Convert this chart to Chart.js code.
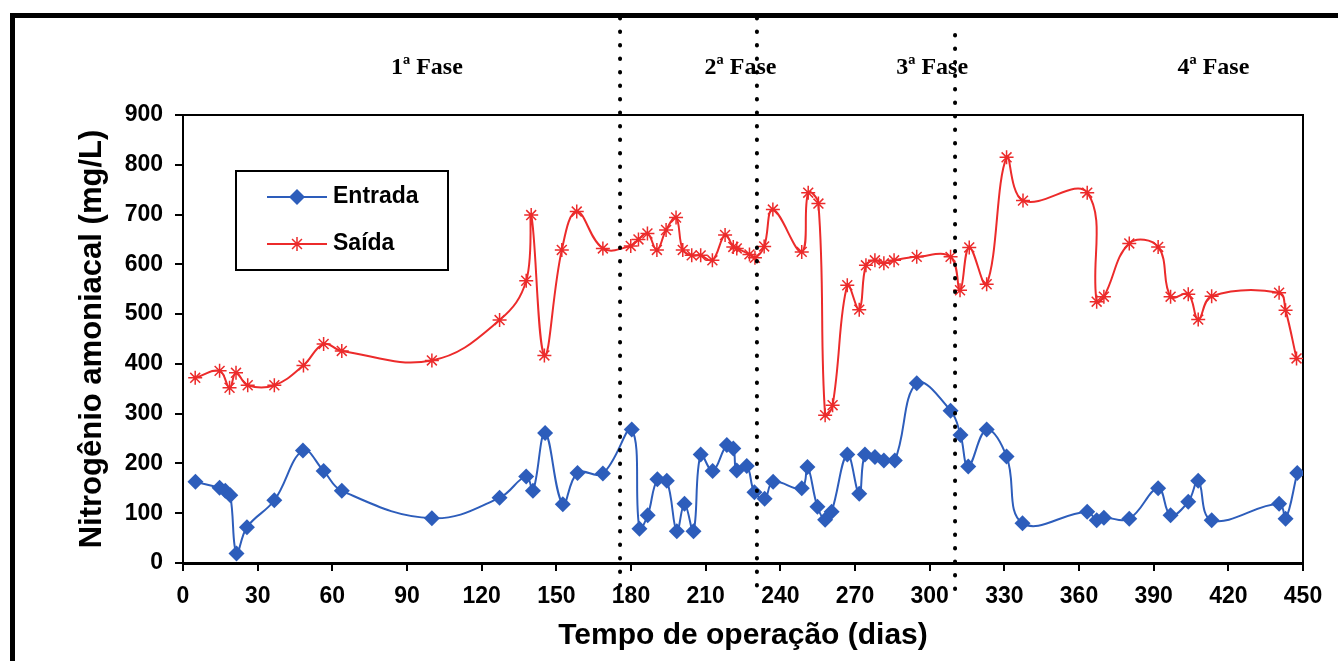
<!DOCTYPE html>
<html>
<head>
<meta charset="utf-8">
<script src="https://cdn.jsdelivr.net/npm/chart.js@4.4.1/dist/chart.umd.min.js"></script>
<style>
  html, body { margin: 0; padding: 0; background: #fff; }
  #wrap { width: 1338px; height: 661px; position: relative; }
</style>
</head>
<body>
<div id="wrap"><canvas id="nitroChart" width="1338" height="661"></canvas></div>
<script>
// dados
var entradaDias = [5, 14.7, 17, 19, 21.5, 25.7, 36.7, 48.2, 56.5, 63.8, 100, 127.2, 137.9, 140.6, 145.5,
  152.6, 158.5, 168.7, 180.3, 183.4, 186.7, 190.6, 194.4, 198.4, 201.5, 205.1, 208, 212.8, 218.5,
  221.1, 222.5, 226.5, 229.6, 233.7, 237.1, 248.6, 250.9, 254.9, 258, 260.6, 266.9, 271.7, 274,
  278, 281.6, 286, 294.8, 308.4, 312.4, 315.5, 322.9, 330.9, 337.3, 363.3, 367.1, 370, 380.2,
  391.8, 396.8, 403.9, 407.9, 413.3, 440.4, 443, 447.7];
var entradaValores = [163, 151, 145, 136, 19, 72, 126, 226, 185, 145, 90, 131, 174, 145, 261,
  118, 181, 180, 268, 69, 96, 168, 165, 64, 119, 64, 218, 185, 237,
  230, 186, 195, 142, 129, 163, 150, 193, 113, 87, 103, 218, 139, 218,
  213, 206, 206, 361, 306, 257, 194, 268, 214, 80, 103, 86, 91, 89,
  150, 96, 123, 165, 86, 119, 89, 181];

var saidaDias = [4.9, 14.7, 18.7, 21.3, 26, 36.7, 48.4, 56.5, 63.8, 100, 127.2, 137.9, 139.9, 145.2,
  152.2, 158.2, 168.7, 179.9, 183, 186.6, 190.4, 194.1, 198.1, 200.8, 204.4, 208, 212.7, 217.8,
  221.1, 222.5, 227.6, 229.8, 233.5, 237, 248.6, 251.2, 255.3, 258, 261, 266.9, 271.7, 274.4,
  278, 281.6, 285.7, 294.8, 308.4, 312.2, 315.9, 322.9, 330.9, 337.5, 363.3, 367.1, 370, 380.2,
  391.8, 396.8, 403.9, 407.9, 413.3, 440.4, 443, 447.4];
var saidaValores = [372, 386, 352, 382, 357, 357, 397, 440, 426, 407, 488, 567, 699, 417,
  629, 706, 632, 637, 650, 662, 629, 669, 694, 629, 618, 618, 608, 659,
  635, 632, 620, 613, 636, 710, 625, 744, 722, 297, 317, 558, 509, 598,
  608, 602, 608, 615, 615, 548, 634, 560, 815, 728, 744, 525, 535, 642,
  635, 535, 540, 489, 536, 543, 508, 411];

var faseNomes = ['1ª Fase', '2ª Fase', '3ª Fase', '4ª Fase'];
var faseCentros = [98, 224, 301, 414];
var faseLimites = [175.6, 230.6, 310.2];

function pares(xs, ys) {
  return xs.map(function(x, i) { return { x: x, y: ys[i] }; });
}

var azul = '#2D5DBB';
var vermelho = '#EC2B2B';
var fonteEixo = { family: 'Liberation Sans, Arial, sans-serif', size: 23, weight: 'bold' };

var extras = {
  id: 'extras',
  beforeDatasetsDraw: function(chart) {
    var ctx = chart.ctx, a = chart.chartArea;
    ctx.save();
    ctx.strokeStyle = '#000';
    ctx.lineWidth = 2;
    ctx.strokeRect(a.left, a.top, a.right - a.left, a.bottom - a.top);
    ctx.restore();
  },
  afterDraw: function(chart) {
    var ctx = chart.ctx, x = chart.scales.x;
    ctx.save();
    // moldura externa
    ctx.strokeStyle = '#000';
    ctx.lineWidth = 5;
    ctx.strokeRect(12.5, 15.5, 1500, 800);

    // linhas pontilhadas entre fases
    var topos = [18, 18, 35];
    ctx.lineWidth = 4;
    ctx.lineCap = 'round';
    ctx.setLineDash([0.5, 13]);
    faseLimites.forEach(function(d, i) {
      var px = x.getPixelForValue(d);
      ctx.beginPath();
      ctx.moveTo(px, topos[i]);
      ctx.lineTo(px, 590);
      ctx.stroke();
    });
    ctx.setLineDash([]);
    ctx.lineCap = 'butt';

    // nomes das fases
    ctx.fillStyle = '#000';
    ctx.font = 'bold 24px "Liberation Serif", serif';
    ctx.textAlign = 'center';
    ctx.textBaseline = 'middle';
    faseNomes.forEach(function(n, i) {
      ctx.fillText(n, x.getPixelForValue(faseCentros[i]), 68);
    });

    // legenda
    ctx.fillStyle = '#fff';
    ctx.fillRect(236, 171, 212, 99);
    ctx.strokeStyle = '#000';
    ctx.lineWidth = 2;
    ctx.strokeRect(236, 171, 212, 99);

    ctx.lineWidth = 2;
    ctx.strokeStyle = azul;
    ctx.beginPath(); ctx.moveTo(267, 197); ctx.lineTo(327, 197); ctx.stroke();
    ctx.fillStyle = azul;
    ctx.beginPath();
    ctx.moveTo(297, 189); ctx.lineTo(305, 197); ctx.lineTo(297, 205); ctx.lineTo(289, 197);
    ctx.closePath(); ctx.fill();

    ctx.strokeStyle = vermelho;
    ctx.beginPath(); ctx.moveTo(267, 244); ctx.lineTo(327, 244); ctx.stroke();
    ctx.lineWidth = 1.5;
    Chart.helpers.drawPoint(ctx, { pointStyle: 'star', radius: 7, borderWidth: 1.5 }, 297, 244);

    ctx.fillStyle = '#000';
    ctx.font = 'bold 23px "Liberation Sans", Arial, sans-serif';
    ctx.textAlign = 'left';
    ctx.fillText('Entrada', 333, 197);
    ctx.fillText('Saída', 333, 244);
    ctx.restore();
  }
};

var ctxN = document.getElementById('nitroChart').getContext('2d');
var grafico = new Chart(ctxN, {
  type: 'line',
  data: {
    datasets: [{
      label: 'Entrada',
      data: pares(entradaDias, entradaValores),
      borderColor: azul,
      backgroundColor: azul,
      borderWidth: 2,
      pointStyle: 'rectRot',
      pointRadius: 8,
      pointBorderWidth: 0,
      pointBackgroundColor: azul,
      tension: 0.4,
      fill: false
    }, {
      label: 'Saída',
      data: pares(saidaDias, saidaValores),
      borderColor: vermelho,
      backgroundColor: vermelho,
      borderWidth: 2,
      pointStyle: 'star',
      pointRadius: 7,
      pointBorderWidth: 1.5,
      pointBorderColor: vermelho,
      tension: 0.4,
      fill: false
    }]
  },
  options: {
    responsive: false,
    animation: false,
    events: [],
    layout: { padding: { left: 70, top: 115, right: 35, bottom: 3 } },
    plugins: { legend: { display: false }, tooltip: { enabled: false } },
    scales: {
      x: {
        type: 'linear',
        min: 0,
        max: 450,
        afterFit: function(s) { s.height = 95; },
        ticks: { stepSize: 30, color: '#000', font: fonteEixo, padding: 12, maxRotation: 0 },
        grid: { drawOnChartArea: false, drawTicks: true, tickLength: 8, color: '#000', lineWidth: 2 },
        border: { display: true, color: '#000', width: 3 },
        title: { display: true, text: 'Tempo de operação (dias)', color: '#000',
          font: { family: 'Liberation Sans, Arial, sans-serif', size: 30, weight: 'bold' }, padding: 4 }
      },
      y: {
        min: 0,
        max: 900,
        afterFit: function(s) { s.width = 113; },
        ticks: { stepSize: 100, color: '#000', font: fonteEixo, padding: 12 },
        grid: { drawOnChartArea: false, drawTicks: true, tickLength: 8, color: '#000', lineWidth: 2 },
        border: { display: true, color: '#000', width: 2 },
        title: { display: true, text: 'Nitrogênio amoniacal (mg/L)', color: '#000',
          font: { family: 'Liberation Sans, Arial, sans-serif', size: 31, weight: 'bold' }, padding: 4 }
      }
    }
  },
  plugins: [extras]
});
</script>
</body>
</html>
